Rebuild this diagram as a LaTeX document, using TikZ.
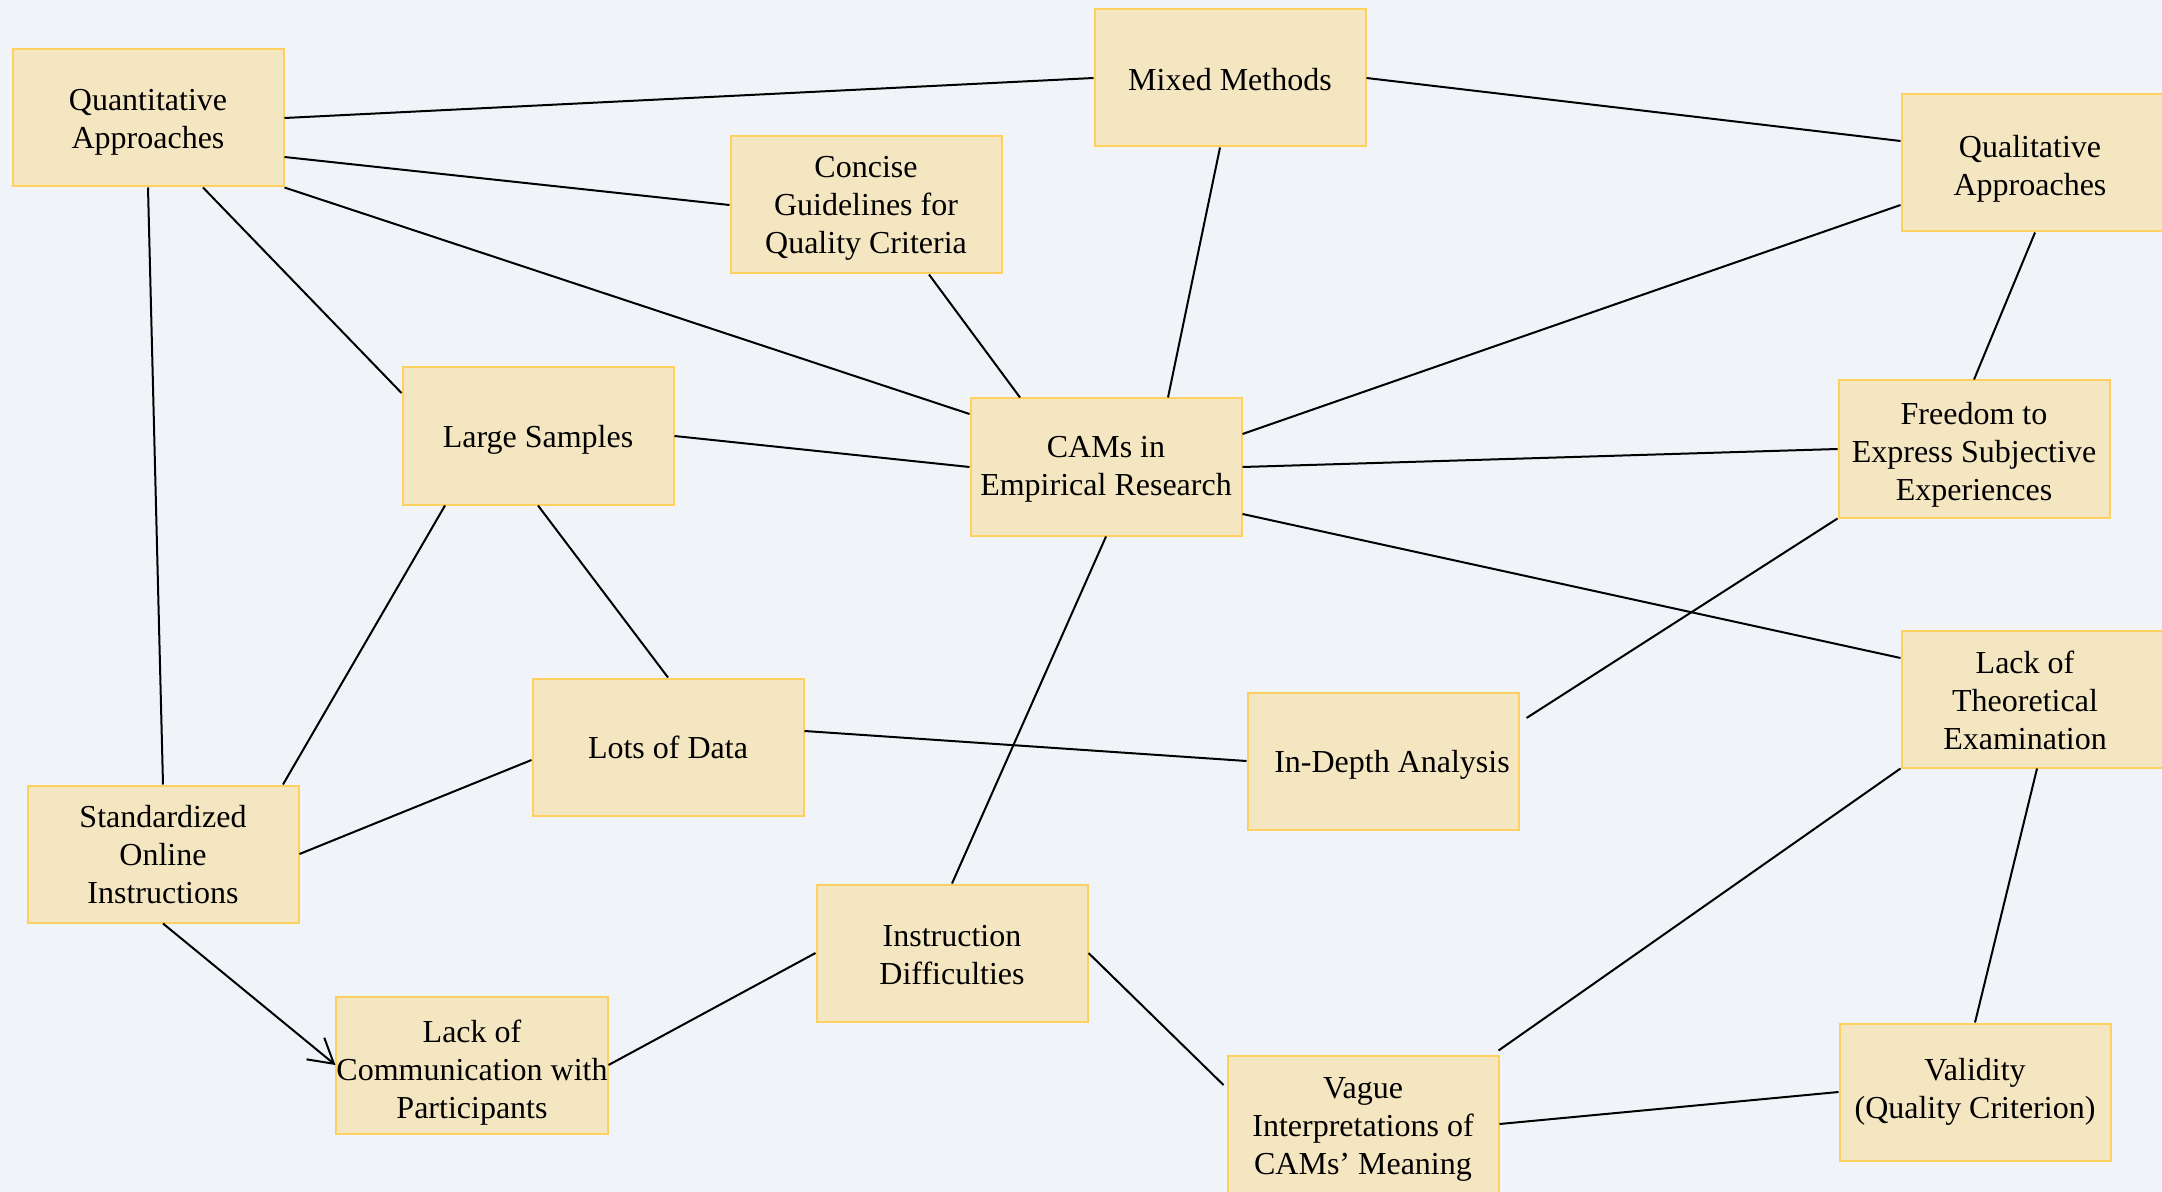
\documentclass[tikz,border=0pt]{standalone}
\usepackage{fontspec}
\setmainfont{Liberation Serif}
\usetikzlibrary{arrows.meta}
\definecolor{bgcol}{HTML}{F0F4F9}
\definecolor{boxfill}{HTML}{F5E6C2}
\definecolor{boxline}{HTML}{FDD060}
\newcommand\padr[1]{#1\hbox to 12pt{}}
\newcommand\padq[1]{#1\hbox to 7pt{}}
\begin{document}
\begin{tikzpicture}[x=0.5pt,y=-0.5pt,
  concept/.style={rectangle, draw=boxline, fill=boxfill, line width=1pt,
    minimum width=135.5pt, minimum height=68.5pt, inner sep=0pt,
    align=center, font=\fontsize{16}{19}\selectfont, text=black,
    execute at begin node={\rule{0pt}{#1}},
    execute at end node={\rule[-4pt]{0pt}{4pt}}},
  concept/.default=16pt,
  link/.style={draw=black, line width=1pt},
  arrowlink/.style={link, -{Straight Barb[length=12pt,width=14pt,line width=1pt]}}]
\fill[bgcol] (0,0) rectangle (2162,1192);
\useasboundingbox (0,0) rectangle (2162,1192);

\node[concept=34.1pt] (qa)  at (148,118)  {Quantitative\\Approaches};
\node[concept=16.8pt] (mm)  at (1230,78)  {Mixed Methods};
\node[concept=52.3pt] (cg)  at (866,205)  {Concise\\Guidelines for\\Quality Criteria};
\node[concept=36.1pt] (ql)  at (2037,163) {\padq{Qualitative}\\\padq{Approaches}};
\node[concept=15.4pt] (ls)  at (538,436)  {Large Samples};
\node[concept=32.7pt] (cam) at (1106,467) {CAMs in\\Empirical Research};
\node[concept=55.1pt] (fr)  at (1974,449) {Freedom to\\Express Subjective\\Experiences};
\node[concept=15.4pt] (ld)  at (668,747)  {Lots of Data};
\node[concept=15.4pt] (ia)  at (1383,761) {\hbox to 9pt{}In-Depth Analysis};
\node[concept=54.5pt] (lt)  at (2037,699) {\padr{Lack of}\\\padr{Theoretical}\\\padr{Examination}};
\node[concept=53.1pt] (so)  at (163,854)  {Standardized\\Online\\Instructions};
\node[concept=35.5pt] (id)  at (952,953)  {Instruction\\Difficulties};
\node[concept=57.9pt] (lc)  at (472,1065) {Lack of\\Communication with\\Participants};
\node[concept=54.5pt] (va)  at (1363,1124) {Vague\\Interpretations of\\CAMs’ Meaning};
\node[concept=30.5pt] (vl)  at (1975,1092) {Validity\\(Quality Criterion)};

\draw[link] (qa.east) -- (mm.west);
\draw[link] ([shift={(0,39)}]qa.east) -- (cg.west);
\draw[link] (qa.south east) -- ([shift={(0,-53)}]cam.west);
\draw[link] ([shift={(55,0)}]qa.south) -- ([shift={(0,-43)}]ls.west);
\draw[link] (qa.south) -- (so.north);
\draw[link] (mm.east) -- ([shift={(0,-22)}]ql.west);
\draw[link] ([shift={(-10,0)}]mm.south) -- ([shift={(62,0)}]cam.north);
\draw[link] ([shift={(63,0)}]cg.south) -- ([shift={(-86,0)}]cam.north);
\draw[link] ([shift={(0,42)}]ql.west) -- ([shift={(0,-33)}]cam.east);
\draw[link] ([shift={(-2,0)}]ql.south) -- (fr.north);
\draw[link] (ls.east) -- (cam.west);
\draw[link] (cam.east) -- (fr.west);
\draw[link] ([shift={(0,47)}]cam.east) -- ([shift={(0,-41)}]lt.west);
\draw[link] ([shift={(-93,0)}]ls.south) -- ([shift={(120,0)}]so.north);
\draw[link] (ls.south) -- (ld.north);
\draw[link] (cam.south) -- (id.north);
\draw[link] (fr.south west) -- ([shift={(7,-43)}]ia.east);
\draw[link] ([shift={(0,-16)}]ld.east) -- (ia.west);
\draw[link] ([shift={(0,13)}]ld.west) -- (so.east);
\draw[arrowlink] (so.south) -- (lc.west);
\draw[link] (lc.east) -- (id.west);
\draw[link] (id.east) -- ([shift={(-3,-39)}]va.west);
\draw[link] ([shift={(-1,-4)}]va.north east) -- (lt.south west);
\draw[link] (lt.south) -- (vl.north);
\draw[link] (va.east) -- (vl.west);
\end{tikzpicture}
\end{document}
